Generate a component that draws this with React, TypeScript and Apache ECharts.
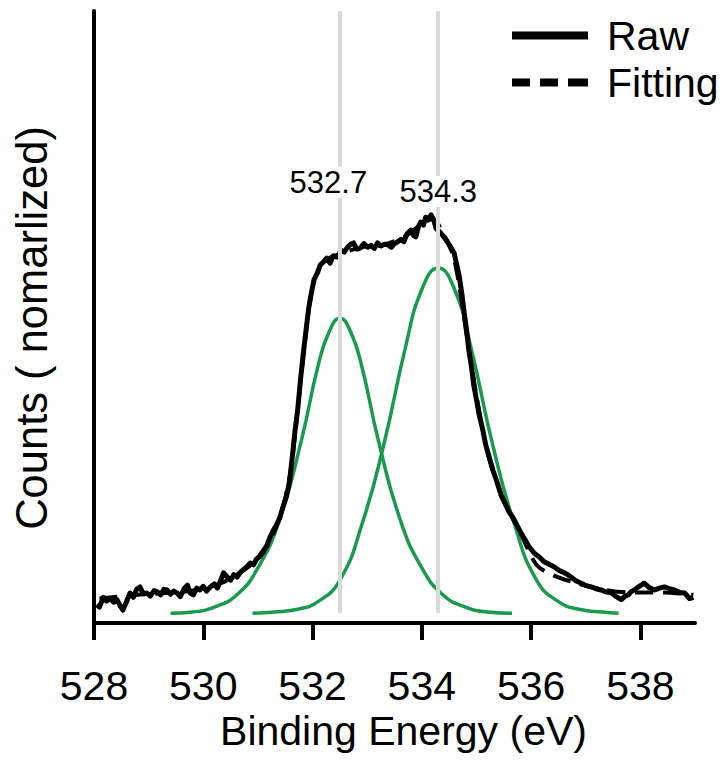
import React, { useEffect, useRef } from "react";
import * as echarts from "echarts";

const xTicks = [528, 530, 532, 534, 536, 538];
const guideEnergies = [532.5, 534.3];
const peakLabels = ["532.7", "534.3"];
const peakLabelEnergy = [532.29, 534.3];
const peakLabelCounts = [0.72, 0.705];

const rawEnergy = [
  528.05, 528.1, 528.17, 528.23, 528.29, 528.36, 528.42, 528.48, 528.53, 528.6,
  528.66, 528.72, 528.78, 528.84, 528.9, 528.97, 529.03, 529.1, 529.16, 529.22,
  529.28, 529.34, 529.4, 529.46, 529.52, 529.58, 529.65, 529.71, 529.76, 529.82,
  529.88, 529.94, 530.0, 530.06, 530.13, 530.2, 530.26, 530.32, 530.37, 530.43,
  530.5, 530.56, 530.62, 530.68, 530.73, 530.8, 530.86, 530.92, 530.97, 531.03,
  531.1, 531.16, 531.22, 531.28, 531.34, 531.4, 531.46, 531.52, 531.58, 531.63,
  531.68, 531.73, 531.78, 531.83, 531.88, 531.93, 531.98, 532.03, 532.09, 532.14,
  532.2, 532.26, 532.32, 532.38, 532.46, 532.52, 532.58, 532.64, 532.7, 532.75,
  532.81, 532.88, 532.94, 533.01, 533.07, 533.13, 533.19, 533.25, 533.32, 533.38,
  533.44, 533.5, 533.56, 533.62, 533.67, 533.73, 533.8, 533.85, 533.89, 533.94,
  533.98, 534.03, 534.07, 534.12, 534.17, 534.22, 534.26, 534.29, 534.35, 534.4,
  534.46, 534.53, 534.59, 534.64, 534.68, 534.73, 534.77, 534.82, 534.86, 534.91,
  534.95, 535.0, 535.05, 535.11, 535.17, 535.23, 535.3, 535.37, 535.45, 535.52,
  535.6, 535.67, 535.74, 535.81, 535.89, 535.96, 536.06, 536.15, 536.24, 536.33,
  536.42, 536.51, 536.61, 536.67, 536.73, 536.82, 536.92, 537.01, 537.1, 537.19,
  537.28, 537.37, 537.47, 537.56, 537.65, 537.72, 537.78, 537.84, 537.89, 537.98,
  538.07, 538.16, 538.26, 538.35, 538.44, 538.53, 538.62, 538.72, 538.81, 538.9,
  538.97,
];
const rawCounts = [
  0.03, 0.026, 0.042, 0.036, 0.04, 0.034, 0.038, 0.028, 0.021, 0.036,
  0.049, 0.042, 0.055, 0.059, 0.048, 0.049, 0.044, 0.053, 0.051, 0.046,
  0.055, 0.054, 0.047, 0.052, 0.049, 0.043, 0.056, 0.062, 0.049, 0.046,
  0.057, 0.054, 0.06, 0.052, 0.059, 0.064, 0.057, 0.07, 0.082, 0.076,
  0.07, 0.079, 0.075, 0.083, 0.087, 0.092, 0.098, 0.095, 0.104, 0.109,
  0.118, 0.126, 0.14, 0.151, 0.16, 0.172, 0.19, 0.206, 0.232, 0.272,
  0.315, 0.35, 0.398, 0.44, 0.478, 0.515, 0.54, 0.562, 0.572, 0.585,
  0.59, 0.596, 0.588, 0.6, 0.598, 0.609, 0.606, 0.614, 0.619, 0.621,
  0.611, 0.613, 0.62, 0.614, 0.617, 0.612, 0.621, 0.616, 0.619, 0.618,
  0.614, 0.62, 0.623, 0.627, 0.623, 0.636, 0.642, 0.633, 0.631, 0.648,
  0.655, 0.65, 0.663, 0.66, 0.667, 0.658, 0.645, 0.642, 0.637, 0.631,
  0.624, 0.614, 0.605, 0.585, 0.569, 0.54, 0.511, 0.478, 0.446, 0.418,
  0.389, 0.365, 0.34, 0.318, 0.291, 0.272, 0.25, 0.232, 0.209, 0.196,
  0.181, 0.172, 0.16, 0.148, 0.136, 0.125, 0.114, 0.108, 0.1, 0.096,
  0.092, 0.086, 0.082, 0.079, 0.075, 0.069, 0.065, 0.061, 0.059, 0.056,
  0.054, 0.051, 0.049, 0.043, 0.038, 0.044, 0.046, 0.052, 0.054, 0.06,
  0.065, 0.058, 0.054, 0.057, 0.059, 0.056, 0.054, 0.05, 0.049, 0.04,
  0.042,
];

const fitEnergy = [
  528.1, 528.8, 529.5, 530.0, 530.4, 530.8, 531.1, 531.4, 531.6, 531.8,
  532.0, 532.2, 532.5, 532.9, 533.3, 533.7, 534.0, 534.2, 534.4, 534.6,
  534.9, 535.2, 535.5, 535.8, 536.1, 536.4, 536.8, 537.3, 537.8, 538.4,
  538.97,
];
const fitCounts = [
  0.04, 0.046, 0.05, 0.056, 0.068, 0.09, 0.115, 0.172, 0.25, 0.41,
  0.55, 0.59, 0.603, 0.614, 0.618, 0.632, 0.652, 0.66, 0.635, 0.592,
  0.425, 0.28, 0.2, 0.148, 0.095, 0.078, 0.066, 0.055, 0.05, 0.05,
  0.046,
];

const peak1Energy = [
  529.4, 529.8, 530.2, 530.6, 531.0, 531.4, 531.8, 532.1, 532.3, 532.5,
  532.7, 532.9, 533.2, 533.6, 534.0, 534.4, 534.8, 535.2, 535.65,
];
const peak1Counts = [
  0.016, 0.018, 0.026, 0.045, 0.09, 0.17, 0.3, 0.42, 0.475, 0.498,
  0.475, 0.42, 0.3, 0.17, 0.09, 0.045, 0.026, 0.018, 0.016,
];
const peak2Energy = [
  530.9, 531.3, 531.7, 532.1, 532.5, 532.9, 533.3, 533.7, 534.0, 534.3,
  534.6, 534.9, 535.3, 535.7, 536.1, 536.5, 536.9, 537.3, 537.6,
];
const peak2Counts = [
  0.016, 0.018, 0.022, 0.035, 0.07, 0.16, 0.29, 0.45, 0.545, 0.58,
  0.545, 0.45, 0.29, 0.16, 0.07, 0.035, 0.022, 0.018, 0.016,
];

const zip = (xs: number[], ys: number[]) => xs.map((x, i) => [x, ys[i]]);

const FONT = "'Liberation Sans', Arial, sans-serif";
const GREEN = "#1a9a4c";

export default function App() {
  const ref = useRef<HTMLDivElement>(null);
  useEffect(() => {
    const chart = echarts.init(ref.current!, null, { renderer: "svg" });
    chart.setOption({
      animation: false,
      backgroundColor: "#fff",
      textStyle: { fontFamily: FONT, color: "#000" },
      grid: { left: 94, right: 30, top: 11, bottom: 142, containLabel: false },
      legend: {
        data: [
          { name: "Raw", icon: "path://M0,0H76V8H0Z" },
          { name: "Fitting", icon: "path://M0,0H18V8H0ZM28,0H46V8H28ZM56,0H76V8H56Z" },
        ],
        orient: "vertical",
        left: 512,
        top: 15,
        padding: 0,
        itemWidth: 76,
        itemHeight: 8,
        itemGap: 6,
        textStyle: { fontSize: 41, color: "#000", lineHeight: 41, padding: [0, 0, 0, 14], fontFamily: FONT },
      },
      xAxis: {
        type: "value",
        min: 528,
        max: 539,
        interval: 2,
        axisLine: { lineStyle: { color: "#000", width: 4 } },
        axisTick: { length: 17, lineStyle: { color: "#000", width: 4 }, customValues: xTicks },
        axisLabel: { customValues: xTicks, fontSize: 41, color: "#000", margin: 42, fontFamily: FONT },
        splitLine: { show: false },
        name: "Binding Energy (eV)",
        nameLocation: "middle",
        nameGap: 83,
        nameTextStyle: { fontSize: 41, color: "#000", fontFamily: FONT, padding: [0, 0, 0, 18] },
      },
      yAxis: {
        type: "value",
        min: 0,
        max: 1,
        axisLine: { show: true, lineStyle: { color: "#000", width: 4 } },
        axisTick: { show: false },
        axisLabel: { show: false },
        splitLine: { show: false },
      },
      graphic: [
        {
          type: "text",
          x: 32,
          y: 328,
          rotation: Math.PI / 2,
          style: {
            text: "Counts ( nomarlized)",
            fontSize: 43.5,
            fontFamily: FONT,
            fill: "#000",
            align: "center",
            verticalAlign: "middle",
          },
        },
      ],
      series: [
        {
          name: "guides",
          type: "line",
          data: [],
          z: 1,
          silent: true,
          markLine: {
            silent: true,
            symbol: "none",
            label: { show: false },
            lineStyle: { color: "#d9d9d9", width: 4, type: "solid" },
            data: guideEnergies.map((e) => [{ coord: [e, 0.016] }, { coord: [e, 1] }]),
          },
        },
        {
          name: "peak1",
          type: "line",
          data: zip(peak1Energy, peak1Counts),
          smooth: true,
          symbol: "none",
          z: 2,
          lineStyle: { color: GREEN, width: 3.5 },
          itemStyle: { color: GREEN },
        },
        {
          name: "peak2",
          type: "line",
          data: zip(peak2Energy, peak2Counts),
          smooth: true,
          symbol: "none",
          z: 2,
          lineStyle: { color: GREEN, width: 3.5 },
          itemStyle: { color: GREEN },
        },
        {
          name: "Fitting",
          type: "line",
          data: zip(fitEnergy, fitCounts),
          smooth: 0.3,
          symbol: "none",
          z: 3,
          lineStyle: { color: "#000", width: 4, type: [18, 10] },
          itemStyle: { color: "#000" },
        },
        {
          name: "Raw",
          type: "line",
          data: zip(rawEnergy, rawCounts),
          symbol: "none",
          z: 4,
          lineStyle: { color: "#000", width: 5, join: "round" },
          itemStyle: { color: "#000" },
        },
        {
          name: "labels",
          type: "line",
          data: [],
          z: 10,
          silent: true,
          markPoint: {
            silent: true,
            symbol: "circle",
            symbolSize: 0,
            itemStyle: { color: "transparent" },
            label: {
              show: true,
              position: "inside",
              formatter: "{b}",
              fontSize: 31,
              color: "#000",
              fontFamily: FONT,
              backgroundColor: "#fff",
              padding: [0, 2],
            },
            data: peakLabels.map((t, i) => ({ name: t, coord: [peakLabelEnergy[i], peakLabelCounts[i]] })),
          },
        },
      ],
    });
    return () => chart.dispose();
  }, []);
  return <div ref={ref} style={{ position: "absolute", left: 0, top: 0, width: 725, height: 765 }} />;
}
